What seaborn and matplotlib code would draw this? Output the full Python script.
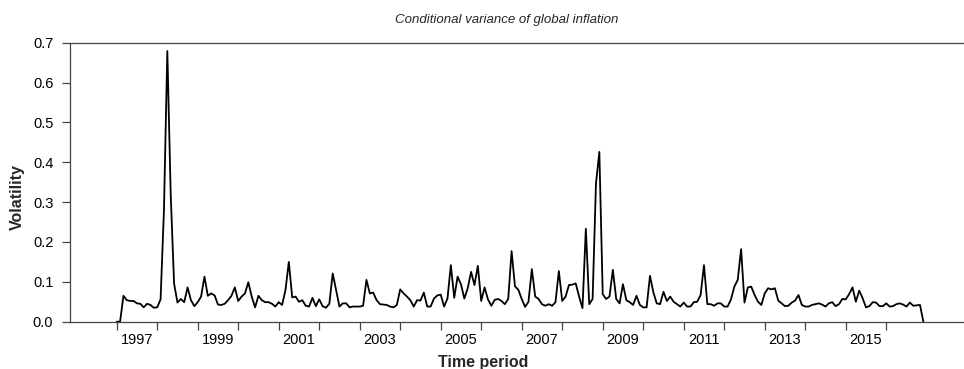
import numpy as np
import pandas as pd
import matplotlib
matplotlib.use("Agg")
import matplotlib.pyplot as plt
import seaborn as sns

# Monthly conditional variance, Jan 1997 - Dec 2016 (one row per year)
volatility = [
    0.000, 0.000, 0.065, 0.054, 0.052, 0.052, 0.046, 0.045, 0.036, 0.045, 0.042, 0.035,  # 1997
    0.036, 0.056, 0.280, 0.679, 0.320, 0.096, 0.048, 0.057, 0.049, 0.086, 0.054, 0.039,  # 1998
    0.049, 0.063, 0.113, 0.065, 0.071, 0.066, 0.043, 0.042, 0.045, 0.054, 0.065, 0.086,  # 1999
    0.052, 0.063, 0.071, 0.099, 0.063, 0.036, 0.065, 0.054, 0.049, 0.049, 0.045, 0.038,  # 2000
    0.049, 0.042, 0.079, 0.150, 0.061, 0.063, 0.050, 0.054, 0.040, 0.038, 0.060, 0.039,  # 2001
    0.056, 0.039, 0.035, 0.045, 0.121, 0.079, 0.038, 0.046, 0.046, 0.036, 0.038, 0.038,  # 2002
    0.038, 0.040, 0.105, 0.071, 0.073, 0.054, 0.044, 0.043, 0.042, 0.038, 0.036, 0.042,  # 2003
    0.081, 0.071, 0.063, 0.054, 0.038, 0.054, 0.053, 0.073, 0.038, 0.038, 0.058, 0.066,  # 2004
    0.068, 0.038, 0.058, 0.142, 0.060, 0.113, 0.094, 0.058, 0.084, 0.125, 0.092, 0.140,  # 2005
    0.052, 0.086, 0.056, 0.040, 0.055, 0.057, 0.052, 0.044, 0.057, 0.177, 0.089, 0.080,  # 2006
    0.057, 0.037, 0.050, 0.132, 0.063, 0.057, 0.044, 0.040, 0.044, 0.040, 0.049, 0.127,  # 2007
    0.052, 0.063, 0.092, 0.093, 0.096, 0.063, 0.034, 0.233, 0.044, 0.057, 0.347, 0.426,  # 2008
    0.069, 0.057, 0.063, 0.130, 0.057, 0.046, 0.094, 0.054, 0.049, 0.042, 0.065, 0.042,  # 2009
    0.036, 0.036, 0.115, 0.074, 0.046, 0.044, 0.075, 0.052, 0.063, 0.050, 0.044, 0.038,  # 2010
    0.048, 0.038, 0.038, 0.049, 0.050, 0.067, 0.142, 0.044, 0.044, 0.040, 0.046, 0.046,  # 2011
    0.038, 0.038, 0.056, 0.088, 0.105, 0.182, 0.048, 0.086, 0.088, 0.067, 0.050, 0.042,  # 2012
    0.071, 0.084, 0.081, 0.084, 0.053, 0.046, 0.039, 0.040, 0.048, 0.053, 0.067, 0.042,  # 2013
    0.038, 0.038, 0.042, 0.044, 0.046, 0.043, 0.038, 0.046, 0.049, 0.039, 0.044, 0.057,  # 2014
    0.056, 0.069, 0.086, 0.050, 0.078, 0.059, 0.036, 0.039, 0.049, 0.048, 0.039, 0.039,  # 2015
    0.046, 0.038, 0.039, 0.044, 0.046, 0.043, 0.038, 0.048, 0.040, 0.041, 0.042, 0.000,  # 2016
]
start_month = "1997-01"
year_ticks = list(range(1997, 2017))
label_years = list(range(1997, 2017, 2))
y_ticks = [0.0, 0.1, 0.2, 0.3, 0.4, 0.5, 0.6, 0.7]

dates = pd.date_range(start_month, periods=len(volatility), freq="MS")
df = pd.DataFrame({"t": dates.year + (dates.month - 1) / 12.0, "vol": volatility})

sns.set_theme(style="ticks")
plt.rcParams["font.family"] = ["Liberation Sans", "DejaVu Sans"]

fig = plt.figure(figsize=(9.64, 3.69), dpi=100)
ax = fig.add_axes([70 / 964, 47.3 / 369, 894 / 964, 279 / 369])

sns.lineplot(data=df, x="t", y="vol", color="black", linewidth=1.3, ax=ax)

ax.set_xlim(1995.847, 2017.92)
ax.set_ylim(0, 0.7)

edge = "#444444"
for side in ["left", "bottom", "top"]:
    ax.spines[side].set_color(edge)
    ax.spines[side].set_linewidth(0.9)
ax.spines["right"].set_visible(False)

# year boundaries as ticks, labels centred in odd years
ax.set_xticks(year_ticks)
ax.set_xticklabels([])
ax.set_xticks([y + 0.5 for y in label_years], minor=True)
ax.set_xticklabels([str(y) for y in label_years], minor=True)
ax.tick_params(axis="x", which="major", length=6, width=0.9, color=edge, direction="out")
ax.tick_params(axis="x", which="minor", length=0, pad=8.4, labelsize=10.5, labelcolor="black")

ax.set_yticks(y_ticks)
ax.set_yticklabels([f"{v:.1f}" for v in y_ticks])
ax.tick_params(axis="y", length=6, width=0.9, color=edge, direction="out", pad=6,
               labelsize=10.5, labelcolor="black")

ax.set_xlabel("Time period", fontsize=11.5, fontweight="bold")
ax.set_ylabel("Volatility", fontsize=11.5, fontweight="bold")
ax.xaxis.set_label_coords(0.462, -0.119)
ax.yaxis.set_label_coords(-0.050, 0.447)

fig.text(507 / 964, 1 - 20 / 369, "Conditional variance of global inflation",
         ha="center", va="center", fontsize=9.5, style="italic",
         family=["Liberation Sans Narrow", "Liberation Sans", "DejaVu Sans"])

fig.savefig("out.png", dpi=100)
